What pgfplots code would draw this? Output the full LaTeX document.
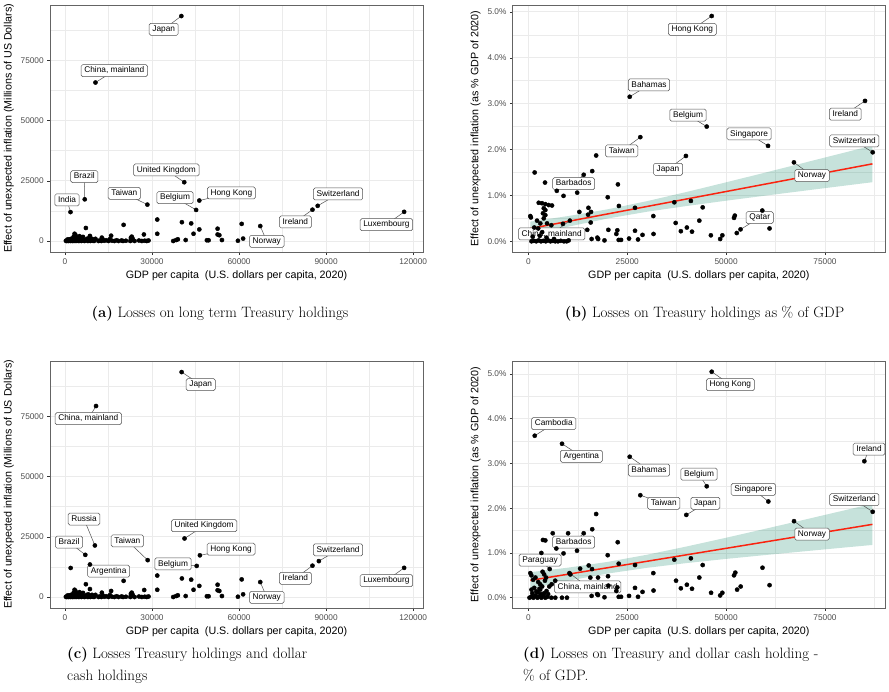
\documentclass[border=0pt]{standalone}
\usepackage{fontspec}
\usepackage{pgfplots}
\pgfplotsset{compat=1.18}
\usepackage{pgfplotstable}
\newfontfamily\ggsans{Liberation Sans}

\definecolor{panelborder}{RGB}{100,100,100}
\definecolor{gridcol}{RGB}{235,235,235}
\definecolor{tickcol}{RGB}{51,51,51}
\definecolor{ticktext}{RGB}{77,77,77}
\definecolor{labelborder}{RGB}{80,80,80}
\definecolor{fitred}{RGB}{250,35,15}
\definecolor{bandcol}{RGB}{27,140,110}

\pgfplotsset{
  ggpanel/.style={
    scale only axis,
    height=247pt,
    clip=false,
    scaled ticks=false,
    axis line style={draw=panelborder, line width=0.65pt},
    grid=both,
    major grid style={draw=gridcol, line width=0.9pt},
    minor grid style={draw=gridcol, line width=0.45pt},
    minor tick length=0pt,
    tick align=outside,
    tick pos=left,
    major tick length=2.75pt,
    tick style={draw=tickcol, line width=0.5pt},
    tick label style={font=\ggsans\fontsize{8.3}{9}\selectfont, text=ticktext},
    label style={font=\ggsans\fontsize{10.7}{12}\selectfont, text=black},
    xlabel={GDP per capita\ \ (U.S. dollars per capita, 2020)},
  },
  levelpanel/.style={
    ggpanel, width=373pt,
    xmin=-5170, xmax=123400, ymin=-4570, ymax=98000,
    xtick={0,30000,60000,90000,120000},
    xticklabels={0,30000,60000,90000,120000},
    minor xtick={15000,45000,75000,105000},
    ytick={0,25000,50000,75000},
    yticklabels={0,25000,50000,75000},
    minor ytick={12500,37500,62500,87500},
    ylabel={Effect of unexpected inflation (Millions of US Dollars)},
  },
  sharepanel/.style={
    ggpanel, width=372.3pt,
    xmin=-3950, xmax=90170,
    xtick={0,25000,50000,75000},
    xticklabels={0,25000,50000,75000},
    minor xtick={12500,37500,62500,87500},
    ytick={0,1,2,3,4,5},
    yticklabels={0.0\%,1.0\%,2.0\%,3.0\%,4.0\%,5.0\%},
    minor ytick={0.5,1.5,2.5,3.5,4.5},
    ylabel={Effect of unexpected inflation (as \% GDP of 2020)},
  },
  dots/.style={only marks, mark=*, mark size=2.1pt, draw=black, fill=black},
}

\tikzset{
  repelbox/.style={draw=labelborder, line width=0.5pt, fill=white,
    rounded corners=1.6pt, inner xsep=3.2pt, inner ysep=2.1pt,
    text height=6.1pt, text depth=1.7pt,
    font=\ggsans\fontsize{8.3}{9}\selectfont, text=black},
}
% #1,#2: point; #3,#4: label centre; #5: text
\newcommand{\replabel}[5]{%
  \draw[labelborder, line width=0.5pt] (axis cs:#3,#4) -- (axis cs:#1,#2);
  \node[repelbox] at (axis cs:#3,#4) {#5};
}

% Losses in millions of US dollars, long term Treasury holdings
\pgfplotstableread{
x y
1900 12000
6800 17300
10500 65800
28400 15100
40100 93400
41100 24400
45200 12900
46300 16800
67300 6200
85300 13000
87100 14600
116900 12100
31800 8900
31800 3000
40300 7800
43500 7300
44300 3000
46300 4800
41600 400
38300 400
37300 0
38900 700
48900 300
49500 300
52600 5100
52600 2700
53200 2400
54100 400
59600 100
60900 7100
61400 1000
20200 6700
7200 5400
8600 2100
3300 3000
3600 2500
5000 2000
15900 2200
23000 1800
23300 1000
27200 2700
12700 1400
22700 1300
300 100
500 0
700 250
900 50
1100 400
1300 0
1500 150
1700 600
1900 0
2100 900
2300 100
2500 0
2700 400
2900 1200
3100 0
3300 300
3500 700
3800 0
4000 1500
4200 100
4500 400
4800 0
5000 1000
5300 200
5600 0
5900 600
6200 1700
6500 100
6800 0
7100 400
7500 800
7900 0
8300 200
8700 0
9100 500
9600 100
10000 0
10500 900
11500 0
12000 200
12500 0
13000 700
13500 100
14200 300
15000 0
15500 800
16200 100
17000 0
17800 300
18500 0
19500 200
20000 0
21000 100
22500 0
23200 400
24000 0
25500 200
26500 0
27500 100
28200 0
28800 200
1000 700
2000 300
3000 1800
4300 800
5500 1300
6000 300
8000 1100
9300 900
}\dataA

% Losses in millions of US dollars, Treasury plus dollar cash holdings
\pgfplotstableread{
x y
1950 12050
7000 17500
10700 79300
10300 21400
8600 13500
28500 15300
40200 93400
41200 24300
45400 12900
46500 17300
67300 6200
85300 13000
87500 14900
116900 12100
31800 8900
31800 3000
40300 7700
43500 7200
44300 3000
46300 4600
41600 400
38300 400
37300 0
38900 700
48900 300
49500 300
52600 5100
52600 2800
53200 2500
54100 400
59600 100
60900 7300
61400 1100
20200 6700
7200 5300
8600 3300
3300 3000
3600 2500
5000 2000
15900 2500
23000 1800
23300 1000
27300 2900
12700 1800
22700 1300
300 100
500 0
700 250
900 50
1100 400
1300 0
1500 150
1700 600
1900 0
2100 900
2300 100
2500 0
2700 400
2900 1200
3100 0
3300 300
3500 700
3800 0
4000 1500
4200 100
4500 400
4800 0
5000 1000
5300 200
5600 0
5900 600
6200 1700
6500 100
6800 0
7100 400
7500 800
7900 0
8300 200
8700 0
9100 500
9600 100
10000 0
10500 900
11500 0
12000 200
12500 0
13000 700
13500 100
14200 300
15000 0
15500 800
16200 100
17000 0
17800 300
18500 0
19500 200
20000 0
21000 100
22500 0
23200 400
24000 0
25500 200
26500 0
27500 100
28200 0
28800 200
1000 700
2000 300
3000 1800
4300 800
5500 1300
6000 300
8000 1100
9300 900
}\dataC

% Losses on Treasury holdings, percent of GDP
\pgfplotstableread{
x y
46360 4.91
25630 3.15
45100 2.50
85120 3.06
60600 2.08
87060 1.94
28310 2.27
39850 1.86
67150 1.72
14000 1.45
53650 0.26
10500 0.45
1600 1.50
4220 1.28
7200 1.10
8900 0.99
12350 1.06
16150 1.53
17150 1.87
22650 1.24
20070 0.96
22900 0.77
26970 0.73
15200 0.73
15850 0.64
15100 0.58
12900 0.64
15770 0.41
8750 0.38
31600 0.55
36910 0.85
41100 0.88
44080 0.74
37250 0.40
40080 0.30
38560 0.22
41380 0.21
43230 0.45
46150 0.13
48500 0.05
49050 0.13
52000 0.51
52200 0.56
52700 0.18
59150 0.67
60980 0.28
31650 0.16
28870 0.14
26970 0.23
25460 0.06
27730 0.04
22250 0.16
22500 0.24
22850 0.03
23440 0.03
20230 0.25
19250 0.02
17450 0.08
17650 0.05
16000 0.05
14900 0.25
2630 0.84
3460 0.83
4300 0.81
5160 0.79
5990 0.78
3900 0.72
4300 0.68
3700 0.61
4300 0.57
3900 0.50
500 0.55
650 0.52
2200 0.45
3030 0.39
4730 0.39
5810 0.35
1500 0.30
2500 0.28
3500 0.20
800 0.00
1400 0.01
2000 0.00
2600 0.02
3200 0.00
3800 0.01
4400 0.00
5000 0.02
5600 0.00
6200 0.01
6800 0.00
7500 0.00
8200 0.01
9000 0.00
9700 0.00
1100 0.10
2900 0.12
4600 0.08
6500 0.05
10200 0.02
}\dataB

% Losses on Treasury and dollar cash holdings, percent of GDP
\pgfplotstableread{
x y
46360 5.05
1620 3.62
8520 3.44
25630 3.15
45100 2.49
84950 3.05
60680 2.15
28310 2.29
39940 1.85
87060 1.92
67170 1.71
14000 1.44
5400 0.64
10400 0.55
17150 1.87
16150 1.53
10050 1.44
6170 1.44
3700 1.29
4300 1.28
7080 1.10
8900 0.99
12310 1.05
3290 1.00
22600 1.24
20070 0.95
22850 0.76
26970 0.73
15270 0.72
16100 0.64
13100 0.65
10620 0.52
15680 0.45
17620 0.45
20150 0.48
31600 0.55
36910 0.85
41100 0.88
44080 0.73
37340 0.38
40080 0.29
38560 0.21
41380 0.20
43230 0.45
46200 0.11
48500 0.05
49050 0.11
52000 0.50
52330 0.56
52780 0.18
53680 0.25
59200 0.67
60980 0.28
31650 0.16
28870 0.13
26970 0.22
25460 0.04
27730 0.02
22250 0.15
22500 0.23
22850 0.02
23440 0.02
20230 0.27
19250 0.01
17400 0.08
17620 0.06
16000 0.04
510 0.55
760 0.50
1200 0.40
1800 0.45
2500 0.35
3000 0.30
3600 0.58
4000 0.52
4500 0.45
4200 0.38
3500 0.25
2800 0.20
1500 0.22
800 0.18
5300 0.25
5900 0.30
6800 0.38
2400 0.12
3200 0.08
4600 0.15
300 0.00
800 0.02
1300 0.00
1800 0.05
2300 0.00
2800 0.03
3300 0.00
3800 0.06
4300 0.00
4800 0.02
5810 0.00
6820 0.00
8510 0.00
9770 0.00
1000 0.10
2000 0.14
3000 0.18
4000 0.10
5000 0.08
}\dataD

\begin{document}
\begin{tikzpicture}[x=1pt,y=1pt]
\useasboundingbox (0,0) rectangle (889,692);

% ---------- (a) ----------
\begin{axis}[levelpanel, at={(50pt,440pt)}, anchor=south west]
\addplot[dots] table {\dataA};
\replabel{40100}{93400}{34030}{87920}{Japan}
\replabel{10500}{65800}{17000}{70730}{China, mainland}
\replabel{6800}{17300}{6660}{26700}{Brazil}
\replabel{1900}{12000}{690}{17030}{India}
\replabel{41100}{24400}{34930}{29490}{United Kingdom}
\replabel{28400}{15100}{20450}{19800}{Taiwan}
\replabel{45200}{12900}{37930}{17990}{Belgium}
\replabel{46300}{16800}{57350}{19930}{Hong Kong}
\replabel{87100}{14600}{94130}{19520}{Switzerland}
\replabel{85300}{13000}{79410}{7890}{Ireland}
\replabel{116900}{12100}{110790}{6770}{Luxembourg}
\replabel{67300}{6200}{69550}{-125}{Norway}
\end{axis}

% ---------- (b) ----------
\begin{axis}[sharepanel, at={(512.7pt,440pt)}, anchor=south west,
  ymin=-0.233, ymax=5.15]
\addplot[dots] table {\dataB};
\addplot[draw=none, fill=bandcol, fill opacity=0.25] coordinates {
  (500,0.429) (10000,0.549) (20000,0.696) (30000,0.875) (40000,1.075)
  (50000,1.285) (60000,1.500) (70000,1.717) (80000,1.935) (87000,2.088)
  (87000,1.288) (80000,1.213) (70000,1.105) (60000,0.996) (50000,0.885)
  (40000,0.769) (30000,0.644) (20000,0.496) (10000,0.318) (500,0.127)};
\addplot[fitred, line width=1.5pt] coordinates {(500,0.278) (87000,1.688)};
\replabel{46360}{4.91}{41460}{4.62}{Hong Kong}
\replabel{25630}{3.15}{30510}{3.41}{Bahamas}
\replabel{45100}{2.50}{40370}{2.75}{Belgium}
\replabel{85120}{3.06}{80140}{2.77}{Ireland}
\replabel{60600}{2.08}{55800}{2.34}{Singapore}
\replabel{87060}{1.94}{82420}{2.19}{Switzerland}
\replabel{28310}{2.27}{23610}{1.97}{Taiwan}
\replabel{39850}{1.86}{35320}{1.57}{Japan}
\replabel{67150}{1.72}{71720}{1.43}{Norway}
\replabel{14000}{1.45}{11470}{1.255}{Barbados}
\replabel{53650}{0.26}{58490}{0.515}{Qatar}
\replabel{10500}{0.45}{5910}{0.16}{China, mainland}
\end{axis}

% ---------- (c) ----------
\begin{axis}[levelpanel, at={(50pt,84pt)}, anchor=south west]
\addplot[dots] table {\dataC};
\replabel{40200}{93400}{46790}{88200}{Japan}
\replabel{10700}{79300}{8040}{74040}{China, mainland}
\replabel{10300}{21400}{6550}{32370}{Russia}
\replabel{7000}{17500}{1380}{22780}{Brazil}
\replabel{8600}{13500}{15060}{10700}{Argentina}
\replabel{41200}{24300}{47930}{29590}{United Kingdom}
\replabel{28500}{15300}{21490}{23330}{Taiwan}
\replabel{45400}{12900}{37240}{13750}{Belgium}
\replabel{46500}{17300}{57240}{19860}{Hong Kong}
\replabel{87500}{14900}{94130}{19590}{Switzerland}
\replabel{85300}{13000}{79410}{7780}{Ireland}
\replabel{116900}{12100}{110790}{6800}{Luxembourg}
\replabel{67300}{6200}{69550}{-140}{Norway}
\end{axis}

% ---------- (d) ----------
\begin{axis}[sharepanel, at={(512.7pt,84pt)}, anchor=south west,
  ymin=-0.23, ymax=5.29]
\addplot[dots] table {\dataD};
\addplot[draw=none, fill=bandcol, fill opacity=0.25] coordinates {
  (500,0.570) (10000,0.671) (20000,0.799) (30000,0.960) (40000,1.144)
  (50000,1.340) (60000,1.542) (70000,1.747) (80000,1.954) (87000,2.099)
  (87000,1.179) (80000,1.122) (70000,1.039) (60000,0.954) (50000,0.867)
  (40000,0.774) (30000,0.668) (20000,0.539) (10000,0.379) (500,0.204)};
\addplot[fitred, line width=1.5pt] coordinates {(500,0.387) (87000,1.639)};
\replabel{46360}{5.05}{51070}{4.76}{Hong Kong}
\replabel{1620}{3.62}{6420}{3.89}{Cambodia}
\replabel{8520}{3.44}{13400}{3.16}{Argentina}
\replabel{25630}{3.15}{30510}{2.85}{Bahamas}
\replabel{45100}{2.49}{43150}{2.76}{Belgium}
\replabel{84950}{3.05}{86130}{3.32}{Ireland}
\replabel{60680}{2.15}{56880}{2.42}{Singapore}
\replabel{28310}{2.29}{34230}{2.11}{Taiwan}
\replabel{39940}{1.85}{44750}{2.11}{Japan}
\replabel{87060}{1.92}{82420}{2.19}{Switzerland}
\replabel{67170}{1.71}{71720}{1.42}{Norway}
\replabel{14000}{1.44}{11470}{1.24}{Barbados}
\replabel{5400}{0.64}{2960}{0.84}{Paraguay}
\replabel{10400}{0.55}{15010}{0.24}{China, mainland}
\end{axis}

% ---------- sub-captions ----------
\node[font=\fontsize{15}{20}\selectfont, anchor=base, inner sep=0pt]
  at (220,374) {\textbf{(a)} Losses on long term Treasury holdings};
\node[font=\fontsize{15}{20}\selectfont, anchor=base, inner sep=0pt]
  at (704.6,374) {\textbf{(b)} Losses on Treasury holdings as \% of GDP};
\node[font=\fontsize{15}{22}\selectfont, anchor=north west, align=left, inner sep=0pt]
  at (67,45.3) {\textbf{(c)} Losses Treasury holdings and dollar\\cash holdings};
\node[font=\fontsize{15}{22}\selectfont, anchor=north west, align=left, inner sep=0pt]
  at (523,45.3) {\textbf{(d)} Losses on Treasury and dollar cash holding -\\\% of GDP.};
\end{tikzpicture}
\end{document}
